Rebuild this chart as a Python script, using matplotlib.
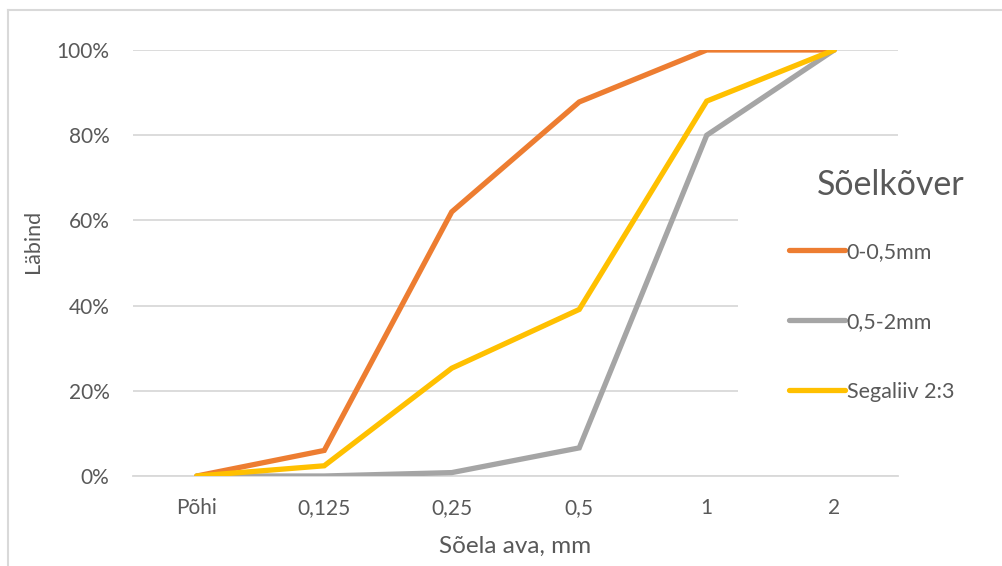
import matplotlib
matplotlib.use("Agg")
import matplotlib.pyplot as plt
from matplotlib.lines import Line2D
from matplotlib.patches import Rectangle
from matplotlib.ticker import PercentFormatter

plt.rcParams["font.family"] = ["Lato", "DejaVu Sans"]

# sõelanalüüs: läbind sõelte kaupa
sieves = ["Põhi", "0,125", "0,25", "0,5", "1", "2"]
fine_sand = [0, 6, 62, 87.8, 100, 100]        # 0-0,5mm
coarse_sand = [0, 0, 0.8, 6.6, 80, 100]       # 0,5-2mm
mix_2_3 = [0, 2.4, 25.3, 39.1, 88, 100]       # Segaliiv 2:3
series_names = ["0-0,5mm", "0,5-2mm", "Segaliiv 2:3"]
colors = ["#ED7D31", "#A5A5A5", "#FFC000"]
text_color = "#595959"
grid_color = "#D9D9D9"

fig = plt.figure(figsize=(10.03, 5.66), dpi=100)
ax = fig.add_axes([0.1326, 0.159, 0.7627, 0.7527])

x = range(len(sieves))
for vals, name, c in zip([fine_sand, coarse_sand, mix_2_3], series_names, colors):
    ax.plot(x, vals, color=c, lw=3.8, label=name,
            solid_capstyle="round", solid_joinstyle="miter", zorder=3)

ax.set_xlim(-0.5, len(sieves) - 0.5)
ax.set_ylim(0, 100)
ax.set_yticks([0, 20, 40, 60, 80, 100])
ax.yaxis.set_major_formatter(PercentFormatter(decimals=0))
ax.set_xticks(list(x))
ax.set_xticklabels(sieves)
ax.grid(axis="y", color=grid_color, lw=1.3)
ax.set_axisbelow(True)
for s in ["top", "right", "left"]:
    ax.spines[s].set_visible(False)
ax.spines["bottom"].set_color(grid_color)
ax.spines["bottom"].set_linewidth(1.3)
ax.tick_params(axis="both", length=0, labelsize=15, colors=text_color)
ax.tick_params(axis="y", pad=17)
ax.tick_params(axis="x", pad=16)

ax.set_xlabel("Sõela ava, mm", fontsize=17.5, color=text_color, labelpad=13)
ax.set_ylabel("Läbind", fontsize=15.5, color=text_color)
ax.yaxis.set_label_coords(-0.118, 0.55)

# legendi valge taust katab osa ruudustikust
fig.add_artist(Rectangle((0.7358, 0.205), 0.27, 0.53, facecolor="white",
                         edgecolor="none", transform=fig.transFigure, zorder=1))

fig.text(0.962, 0.673, "Sõelkõver", fontsize=24.5, color=text_color,
         ha="right", va="center", zorder=5)
leg = fig.legend(loc="upper left", bbox_to_anchor=(0.7756, 0.592),
                 fontsize=15.5, handlelength=2.6, handletextpad=0.1,
                 labelspacing=2.33, frameon=False, borderpad=0,
                 labelcolor=text_color)
leg.set_zorder(5)

# kaadri piirjoon
fig.add_artist(Line2D([0.008, 0.008], [0.0, 0.982], color=grid_color, lw=1.5,
                      transform=fig.transFigure))
fig.add_artist(Line2D([0.008, 1.0], [0.982, 0.982], color=grid_color, lw=1.5,
                      transform=fig.transFigure))

fig.savefig("out.png", dpi=100, facecolor="white")
